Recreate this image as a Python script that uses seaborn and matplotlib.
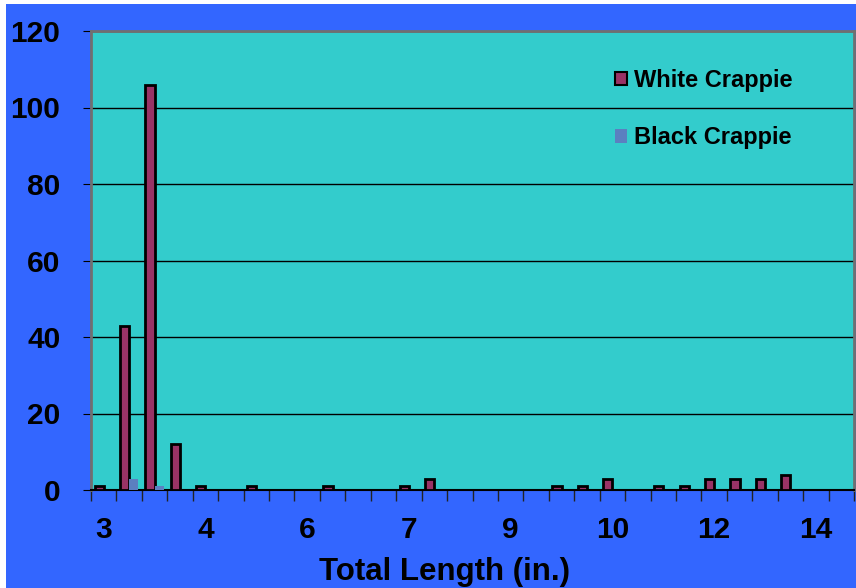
import numpy as np
import pandas as pd
import matplotlib
matplotlib.use('Agg')
import matplotlib.pyplot as plt
import seaborn as sns
from matplotlib.patches import Rectangle

# length bins (30 categories, only every 4th is labelled on the axis)
n_bins = 30
tick_labels = ['3', '4', '6', '7', '9', '10', '12', '14']
tick_every = 4
white_crappie = [1, 43, 106, 12, 1, 0, 1, 0, 0, 1, 0, 0, 1, 3, 0,
                 0, 0, 0, 1, 1, 3, 0, 1, 1, 3, 3, 3, 4, 0, 0]
black_crappie = [0, 3, 1, 0, 0, 0, 0, 0, 0, 0, 0, 0, 0, 0, 0,
                 0, 0, 0, 0, 0, 0, 0, 0, 0, 0, 0, 0, 0, 0, 0]
species = ['White Crappie', 'Black Crappie']
colors = ['#993366', '#5B80C0']

df = pd.DataFrame({
    'bin': list(range(n_bins)) * 2,
    'species': [species[0]] * n_bins + [species[1]] * n_bins,
    'count': white_crappie + black_crappie,
})

sns.set_style('white')
plt.rcParams['font.family'] = ['Liberation Sans', 'DejaVu Sans']
plt.rcParams['font.weight'] = 'bold'
plt.rcParams['text.color'] = 'black'
plt.rcParams['xtick.color'] = 'black'
plt.rcParams['ytick.color'] = 'black'
plt.rcParams['axes.labelcolor'] = 'black'

fig = plt.figure(figsize=(8.56, 5.88), dpi=100)
fig.patch.set_facecolor('white')
fig.add_artist(Rectangle((6 / 856, 0), 1, 584 / 588, transform=fig.transFigure,
                         facecolor='#3366FF', edgecolor='none', zorder=-1))

ax = fig.add_axes([91 / 856, 98 / 588, 763 / 856, 459 / 588])
ax.set_facecolor('#33CCCC')

sns.barplot(data=df, x='bin', y='count', hue='species', hue_order=species,
            palette=colors, width=0.72, ax=ax, saturation=1, zorder=3)

for patch in ax.containers[0]:
    patch.set_edgecolor('black')
    patch.set_linewidth(2)
for patch in ax.containers[1]:
    patch.set_edgecolor('none')

ax.set_ylim(0, 120)
ax.set_xlim(-0.5, n_bins - 0.5)
ax.set_yticks(range(0, 121, 20))
ax.yaxis.grid(True, color='black', linewidth=1)
ax.set_axisbelow(True)
ax.tick_params(axis='y', length=6, color='black', direction='out', left=True,
               labelsize=21.5, pad=16, labelcolor='black')
for lab in ax.get_yticklabels():
    lab.set_fontweight('bold')

ax.set_xticks(np.arange(0, n_bins, tick_every), tick_labels)
ax.set_xticks(np.arange(-0.5, n_bins, 1), minor=True)
ax.tick_params(axis='x', which='major', length=0, labelsize=21.5, pad=19,
               labelcolor='black')
ax.tick_params(axis='x', which='minor', length=8, color='#222222',
               direction='out', bottom=True, width=1)
for lab in ax.get_xticklabels():
    lab.set_fontweight('bold')

ax.set_ylabel('')
ax.set_xlabel('Total Length (in.)', fontsize=22.5, fontweight='bold', color='black')
ax.xaxis.set_label_coords((444.5 - 91) / 763, -0.145)

for side in ['left', 'top', 'right']:
    ax.spines[side].set_color('#707070')
    ax.spines[side].set_linewidth(2)
ax.spines['bottom'].set_color('black')
ax.spines['bottom'].set_linewidth(1.5)

handles, labels = ax.get_legend_handles_labels()
ax.get_legend().remove()
leg = ax.legend(handles, labels, loc='upper left',
                bbox_to_anchor=((615 - 91) / 763, (490 - 69) / 459),
                frameon=False, handlelength=0.5, handleheight=0.5,
                handletextpad=0.3, labelspacing=1.45, borderpad=0, borderaxespad=0,
                prop={'weight': 'bold', 'size': 17})
for t in leg.get_texts():
    t.set_color('black')
leg.legend_handles[0].set_edgecolor('black')
leg.legend_handles[0].set_linewidth(1.5)
leg.legend_handles[1].set_edgecolor('none')

fig.savefig('out.png', dpi=100, facecolor=fig.get_facecolor())
